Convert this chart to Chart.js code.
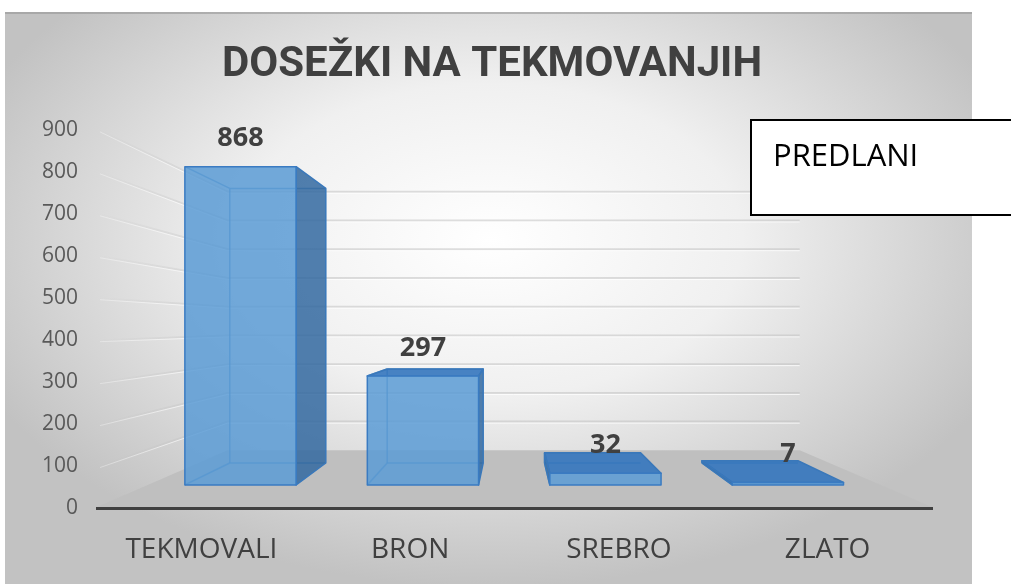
<!DOCTYPE html>
<html>
<head>
<meta charset="utf-8">
<title>Dosežki na tekmovanjih</title>
<script src="https://cdn.jsdelivr.net/npm/chart.js@4.4.1/dist/chart.umd.min.js"></script>
<style>
    html, body { margin: 0; padding: 0; background: #ffffff; }
    #wrap { width: 1011px; height: 584px; }
</style>
</head>
<body>
<div id="wrap"><canvas id="chart" width="1011" height="584"></canvas></div>
<script>
// chart data
const chartTitle = 'DOSEŽKI NA TEKMOVANJIH';
const seriesName = 'PREDLANI';
const categories = ['TEKMOVALI', 'BRON', 'SREBRO', 'ZLATO'];
const values = [868, 297, 32, 7];
const yTicks = [0, 100, 200, 300, 400, 500, 600, 700, 800, 900];

// fake 3D view: one vanishing point, depth given as fraction towards it
const VP = { x: 512, y: 325 };
const T_FRONT = 0.126;
const T_BACK = 0.246;
const T_WALL = 0.315;

function proj(x, y, t) {
    return [x + t * (VP.x - x), y + t * (VP.y - y)];
}

function poly(ctx, pts) {
    ctx.beginPath();
    ctx.moveTo(pts[0][0], pts[0][1]);
    for (let i = 1; i < pts.length; i++) ctx.lineTo(pts[i][0], pts[i][1]);
    ctx.closePath();
}

function line(ctx, a, b) {
    ctx.beginPath();
    ctx.moveTo(a[0], a[1]);
    ctx.lineTo(b[0], b[1]);
    ctx.stroke();
}

// Background panel, walls, gridlines and floor
function drawScene(chart) {
    const ctx = chart.ctx;
    const area = chart.chartArea;
    const yScale = chart.scales.y;

    ctx.save();
    ctx.fillStyle = '#ffffff';
    ctx.fillRect(0, 0, chart.width, chart.height);

    // gray panel
    ctx.save();
    ctx.beginPath();
    ctx.rect(5, 12, 967, 572);
    ctx.clip();
    ctx.translate(490, 240);
    ctx.scale(1, 0.62);
    const g = ctx.createRadialGradient(0, 0, 0, 0, 0, 560);
    g.addColorStop(0, '#ffffff');
    g.addColorStop(0.45, '#f0f0f0');
    g.addColorStop(1, '#c2c2c2');
    ctx.fillStyle = g;
    ctx.fillRect(-700, -700, 1400, 1600);
    ctx.restore();

    ctx.fillStyle = 'rgba(150,150,150,0.6)';
    ctx.fillRect(5, 12, 967, 2);

    // gridlines: left wall fades out towards the front, back wall is flat
    const wallX = proj(area.left, 0, T_WALL)[0];
    const fadeDark = ctx.createLinearGradient(area.left, 0, wallX, 0);
    fadeDark.addColorStop(0, 'rgba(190,190,190,0)');
    fadeDark.addColorStop(1, 'rgba(190,190,190,0.5)');
    const fadeLight = ctx.createLinearGradient(area.left, 0, wallX, 0);
    fadeLight.addColorStop(0, 'rgba(255,255,255,0.3)');
    fadeLight.addColorStop(1, 'rgba(255,255,255,0.8)');
    yScale.ticks.forEach(tk => {
        if (tk.value === 0) return;
        const py = yScale.getPixelForValue(tk.value);
        const a = [area.left + 3, py];
        const b = proj(area.left, py, T_WALL);
        const c = proj(area.right, py, T_WALL);
        ctx.lineWidth = 2;
        ctx.strokeStyle = fadeDark;
        line(ctx, a, b);
        ctx.strokeStyle = 'rgba(190,190,190,0.5)';
        line(ctx, b, c);
        ctx.lineWidth = 1;
        ctx.strokeStyle = fadeLight;
        line(ctx, [a[0], a[1] + 1.5], [b[0], b[1] + 1.5]);
        ctx.strokeStyle = 'rgba(255,255,255,0.8)';
        line(ctx, [b[0], b[1] + 1.5], [c[0], c[1] + 1.5]);
    });

    // floor
    const y0 = yScale.getPixelForValue(0);
    const floor = [
        [area.left, y0 - 1],
        [area.right, y0 - 1],
        proj(area.right, y0, T_WALL),
        proj(area.left, y0, T_WALL)
    ];
    poly(ctx, floor);
    ctx.fillStyle = '#bfbfbf';
    ctx.fill();
    ctx.restore();
}

// 3D boxes built from the bar elements
function drawBoxes(chart) {
    const ctx = chart.ctx;
    const meta = chart.getDatasetMeta(0);
    ctx.save();
    ctx.lineJoin = 'round';
    meta.data.forEach((el, i) => {
        const p = el.getProps(['x', 'y', 'base', 'width'], true);
        const xl = p.x - p.width / 2, xr = p.x + p.width / 2;
        const yt = p.y, yb = p.base;
        const face = t => ({
            tl: proj(xl, yt, t), tr: proj(xr, yt, t),
            bl: proj(xl, yb, t), br: proj(xr, yb, t)
        });
        const F = face(T_FRONT), B = face(T_BACK);

        // hidden edges, seen through the glassy faces
        ctx.lineWidth = 1.5;
        ctx.strokeStyle = 'rgba(46,117,182,0.7)';
        line(ctx, B.tl, B.bl);
        line(ctx, B.bl, B.br);
        line(ctx, F.bl, B.bl);
        line(ctx, B.tl, B.tr);
        line(ctx, F.tl, B.tl);

        // side face
        if (F.tr[0] < VP.x) {
            poly(ctx, [F.tr, B.tr, B.br, F.br]);
        } else {
            poly(ctx, [F.tl, B.tl, B.bl, F.bl]);
        }
        ctx.fillStyle = 'rgba(50,105,160,0.85)';
        ctx.fill();
        ctx.strokeStyle = '#3a78ba';
        ctx.stroke();

        // top face, visible when below eye level
        if (F.tl[1] > VP.y) {
            poly(ctx, [F.tl, F.tr, B.tr, B.tl]);
            ctx.fillStyle = 'rgba(52,118,190,0.9)';
            ctx.fill();
            ctx.strokeStyle = '#3a78ba';
            ctx.stroke();
        }

        // front face
        poly(ctx, [F.tl, F.tr, F.br, F.bl]);
        ctx.fillStyle = 'rgba(91,155,213,0.85)';
        ctx.fill();
        ctx.strokeStyle = '#3a7bc2';
        ctx.stroke();

        // value label
        const lx = (F.tl[0] + F.tr[0]) / 2;
        ctx.fillStyle = '#404040';
        ctx.font = 'bold 27px "Open Sans"';
        ctx.textAlign = 'center';
        ctx.textBaseline = 'middle';
        ctx.fillText(String(values[i]), lx, F.tl[1] - 28);
    });
    ctx.restore();
}

// series name box on the right
function drawNameBox(chart) {
    const ctx = chart.ctx;
    ctx.save();
    ctx.fillStyle = '#ffffff';
    ctx.fillRect(751, 120, 270, 95);
    ctx.strokeStyle = '#000000';
    ctx.lineWidth = 2;
    ctx.strokeRect(751, 120, 270, 95);
    ctx.fillStyle = '#000000';
    ctx.font = '31px "Open Sans"';
    ctx.textAlign = 'left';
    ctx.textBaseline = 'alphabetic';
    ctx.fillText(chart.data.datasets[0].label, 773, 166);
    ctx.restore();
}

const scene3d = {
    id: 'scene3d',
    beforeDraw: drawScene,
    afterDatasetsDraw: drawBoxes,
    afterDraw: drawNameBox
};

Chart.defaults.font.family = '"Open Sans", sans-serif';

new Chart(document.getElementById('chart'), {
    type: 'bar',
    data: {
        labels: categories,
        datasets: [{
            label: seriesName,
            data: values,
            backgroundColor: 'rgba(0,0,0,0)',
            borderWidth: 0,
            categoryPercentage: 1,
            barPercentage: 0.61
        }]
    },
    options: {
        responsive: false,
        animation: false,
        devicePixelRatio: 1,
        layout: { padding: { left: 0, right: 27, top: 40, bottom: 0 } },
        plugins: {
            legend: { display: false },
            tooltip: { enabled: false },
            title: {
                display: true,
                text: chartTitle,
                color: '#404040',
                font: { family: 'Roboto', size: 42, weight: 'bold', lineHeight: 1.2 },
                padding: { top: 0, bottom: 40 }
            }
        },
        scales: {
            x: {
                grid: { display: false, drawTicks: false },
                border: { display: true, color: '#404040', width: 3 },
                ticks: { color: '#404040', font: { size: 28 }, padding: 25 },
                afterFit: s => { s.height = 76; }
            },
            y: {
                min: yTicks[0],
                max: yTicks[yTicks.length - 1],
                grid: { display: false, drawTicks: false },
                border: { display: false },
                ticks: { stepSize: yTicks[1] - yTicks[0], color: '#595959', font: { size: 21 }, padding: 19 },
                afterFit: s => { s.width = 97; }
            },
            // empty right gutter so the title centres like the original
            gutter: {
                position: 'right',
                grid: { display: false, drawTicks: false },
                border: { display: false },
                ticks: { display: false },
                afterFit: s => { s.width = 52; }
            }
        }
    },
    plugins: [scene3d]
});
</script>
</body>
</html>
